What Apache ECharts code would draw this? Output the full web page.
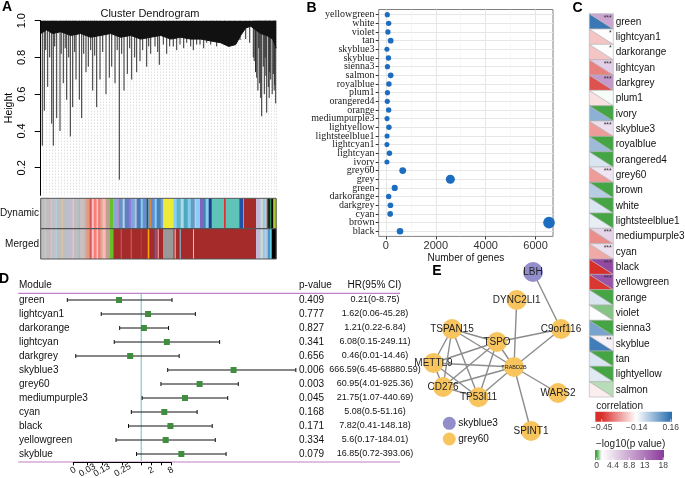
<!DOCTYPE html>
<html><head><meta charset="utf-8">
<script src="https://cdn.jsdelivr.net/npm/echarts@6.0.0/dist/echarts.min.js"></script>
<style>html,body{margin:0;padding:0;background:#fff;}#chart{width:685px;height:478px;}</style>
</head><body><div id="chart"></div>
<script>
// ================= DATA =================
// ---- Panel A : cluster dendrogram (condensed to 235 leaf ranks) ----
const dendroTicks = [0.2, 0.4, 0.6, 0.8, 1.0];
// [leaf rank, merge height of the branch hanging from the top]
const dendroDrops = [
[1.6,0.32],[3.6,0.51],[5,0.84],[7,0.64],[9,0.8],[11,0.44],[12.6,0.32],[14,0.86],[16,0.47],[19.3,0.4],
[20.5,0.82],[22.6,0.66],[24.5,0.85],[26,0.57],[28,0.8],[29.6,0.37],[32,0.53],[34,0.83],[35.3,0.68],[38.6,0.57],
[41,0.47],[43,0.82],[45.3,0.72],[47.6,0.75],[50,0.84],[52,0.62],[54,0.81],[56,0.53],[59.3,0.68],[62,0.83],
[65.3,0.6],[68.6,0.69],[71,0.75],[74.3,0.66],[76.5,0.84],[78.6,0.135],[81,0.82],[83.3,0.62],[86.6,0.71],[89,0.85],
[91,0.68],[94,0.8],[96,0.72],[99.3,0.78],[102,0.84],[106,0.75],[108,0.86],[110,0.82],[114.3,0.86],[117,0.83],
[118.6,0.76],[122.6,0.87],[126,0.82],[129,0.86],[132.6,0.86],[136,0.84],[139.3,0.87],[143,0.85],[146,0.88],[150,0.86],
[152.6,0.84],[156,0.87],[159.3,0.87],[163,0.85],[166,0.88],[170,0.87],[172.6,0.9],[176,0.86],[179.3,0.88],[184,0.87],
[189.3,0.91],[194,0.88],[199.3,0.895],[205,0.9],[209,0.88],[212.6,0.8],[213.5,0.78],[214.8,0.72],[216,0.69],[217.2,0.62],
[218,0.85],[219,0.66],[220,0.58],[221,0.48],[222.6,0.75],[223.6,0.6],[224.5,0.8],[225.2,0.7],[226,0.5],[227.6,0.64],
[228.5,0.58],[229,0.72],[230,0.68],[231.5,0.6],[232.6,0.71],[233.5,0.62],[234,0.65],[235,0.55]
];
// lower edge of the dense merge band at the top of the tree: [leaf rank, height]
const dendroBand = [
[0,0.93],[6,0.95],[12,0.93],[20,0.94],[30,0.92],[40,0.93],[50,0.91],[60,0.92],[70,0.93],[80,0.91],
[90,0.92],[100,0.9],[110,0.91],[120,0.92],[130,0.9],[140,0.91],[150,0.9],[160,0.9],[170,0.89],[180,0.88],
[188,0.86],[195,0.87],[200,0.92],[205,0.96],[210,0.97],[215,0.95],[220,0.93],[226,0.92],[232,0.9],[235.5,0.85]
];
// module colour bars: [first leaf rank, last leaf rank, module colour]
const dynamicSegments = [
[0,4,'#bebebe'],[4,5,'#d8bfd8'],[5,10,'#bebebe'],[10,11,'#ffb6c1'],[11,15,'#c0c0c8'],[15,16,'#add8e6'],[16,21,'#bebebe'],[21,22,'#e6c8a0'],[22,27,'#bebebe'],[27,28,'#b0c4de'],[28,32,'#c4bcc8'],[32,33,'#ffc0cb'],[33,38,'#bebebe'],[38,39,'#9fb6cd'],[39,44,'#c8c0c0'],[44,46,'#d8a8a0'],
[46,49,'#e9967a'],[49,51,'#cd5c5c'],[51,53,'#ffc0cb'],[53,56,'#fa8072'],[56,57,'#ffe4e1'],[57,60,'#f08080'],[60,62,'#d2b48c'],[62,65,'#ffb6c1'],[65,68.6,'#c0a090'],
[68.6,72.6,'#66c02a'],
[72.6,76,'#87a8d8'],[76,78,'#c090c0'],[78,82,'#6f8fc8'],[82,84,'#add8e6'],[84,88,'#5f7fc0'],[88,90,'#9370db'],[90,94,'#7ea6d8'],[94,96,'#b0c4de'],[96,100,'#4f78b8'],[100,102,'#87ceeb'],[102,106,'#6a8fd0'],[106,107.5,'#1f5f3f'],[107.5,109,'#6f8fc8'],[109,110,'#ff8c00'],[110,114,'#5f90d0'],[114,116,'#87cefa'],[116,120,'#4682b4'],[120,122.6,'#7aa0d0'],
[122.6,132.6,'#eeea3a'],
[132.6,136,'#87cefa'],[136,140,'#5fb4c8'],[140,143,'#add8e6'],[143,147,'#4fa8c0'],[147,150,'#87ceeb'],[150,154,'#5f9ec8'],[154,155,'#ffc0cb'],[155,159.3,'#87cefa'],
[159.3,162,'#8b5fbf'],[162,165,'#4682b4'],[165,168,'#87ceeb'],[168,171,'#1f3f8f'],
[171,183.3,'#5ec4b8'],[183.3,185,'#e03030'],[185,198.6,'#5ec4b8'],[198.6,202.6,'#1f4fa8'],[202.6,203.3,'#5ec4b8'],
[203.3,215.3,'#a52a2a'],
[215.3,218,'#c8b8d8'],[218,220,'#b0c4de'],[220,222,'#e0d8c0'],[222,224,'#87ceeb'],[224,226,'#d8bfd8'],
[226,227.5,'#556b2f'],[227.5,229,'#000000'],[229,230.5,'#2e8b57'],[230.5,232.6,'#000000'],
[232.6,235.5,'#a8cc30']
];
const mergedSegments = [
[0,4,'#bebebe'],[4,5,'#d8bfd8'],[5,10,'#bebebe'],[10,11,'#ffb6c1'],[11,15,'#c0c0c8'],[15,16,'#add8e6'],[16,21,'#bebebe'],[21,22,'#e6c8a0'],[22,27,'#bebebe'],[27,28,'#b0c4de'],[28,32,'#c4bcc8'],[32,33,'#ffc0cb'],[33,38,'#bebebe'],[38,39,'#9fb6cd'],[39,44,'#c8c0c0'],[44,46,'#d8a8a0'],
[46,49,'#e9967a'],[49,51,'#cd5c5c'],[51,53,'#ffc0cb'],[53,56,'#fa8072'],[56,57,'#ffe4e1'],[57,60,'#f08080'],[60,62,'#d2b48c'],[62,65,'#ffb6c1'],[65,68.6,'#c0a090'],
[68.6,72.6,'#66c02a'],
[72.6,80,'#a52a2a'],[80,81,'#c86060'],[81,90,'#a52a2a'],[90,91,'#e06060'],[91,100,'#a52a2a'],[100,101,'#c04040'],[101,107,'#a52a2a'],[107,108.5,'#ffa500'],[108.5,114,'#a52a2a'],[114,115.5,'#4169e1'],[115.5,117,'#a52a2a'],[117,118,'#ffb6c1'],[118,122.6,'#a52a2a'],
[122.6,132.6,'#999999'],
[132.6,134,'#a52a2a'],[134,134.8,'#ffffff'],[134.8,139,'#a52a2a'],[139,140,'#87ceeb'],[140,152.3,'#a52a2a'],[152.3,153,'#ffffff'],[153,215.3,'#a52a2a'],
[215.3,218,'#c8b8d8'],[218,220,'#b0c4de'],[220,222,'#e0d8c0'],[222,224,'#87ceeb'],[224,226,'#d8bfd8'],
[226,227.5,'#5fd3e0'],[227.5,229,'#3a78c8'],[229,231,'#5fd3e0'],
[231,235.5,'#000000']
];

// ---- Panel B : module sizes ----
const bModules = ['yellowgreen','white','violet','tan','skyblue3','skyblue','sienna3','salmon','royalblue','plum1','orangered4','orange','mediumpurple3','lightyellow','lightsteelblue1','lightcyan1','lightcyan','ivory','grey60','grey','green','darkorange','darkgrey','cyan','brown','black'];
const bGenes = [55,110,80,190,40,100,60,190,120,60,55,110,45,120,45,40,140,40,673,2583,352,110,180,170,6540,565];
const bTicks = [0,2000,4000,6000];
const bMinorTicks = [1000,3000,5000];

// ---- Panel C : module-trait correlation ----
const cModules = ['green','lightcyan1','darkorange','lightcyan','darkgrey','plum1','ivory','skyblue3','royalblue','orangered4','grey60','brown','white','lightsteelblue1','mediumpurple3','cyan','black','yellowgreen','orange','violet','sienna3','skyblue','tan','lightyellow','salmon'];
const cCorrelation = [0.14,-0.23,-0.23,-0.33,-0.40,-0.19,0.02,-0.29,0.0,-0.09,-0.29,-0.04,-0.09,-0.11,-0.31,-0.27,-0.45,-0.44,-0.09,-0.14,0.05,0.13,-0.09,-0.10,-0.17];
const cNegLog10P = [9,1.5,1.5,5.5,10,1.25,0,4,0,0,3.5,0,0,0,5,4,17,16,0,0.45,0,2.5,0,0,0.8];
const cCorTicks = [-0.45,-0.14,0.16];
const cPTicks = [0,4.4,8.8,13,18];

// ---- Panel D : Cox regression forest plot ----
const dModules = ['green','lightcyan1','darkorange','lightcyan','darkgrey','skyblue3','grey60','mediumpurple3','cyan','black','yellowgreen','skyblue'];
const dPValue = ['0.409','0.777','0.827','0.341','0.656','0.006','0.003','0.045','0.168','0.171','0.334','0.079'];
const dHR = [0.21,1.62,1.21,6.08,0.46,666.59,60.95,21.75,5.08,7.82,5.6,16.85];
const dLow = [0,0.06,0.22,0.15,0.01,6.45,4.01,1.07,0.5,0.41,0.17,0.72];
const dHigh = [8.75,45.28,6.84,249.11,14.46,68880.59,925.36,440.69,51.16,148.18,184.01,393.06];
// axis ticks (HR scale, as placed in the figure) and their printed labels
const dAxisTicks = [0.0084,0.0226,0.0625,0.272,1,2,4,8];
const dAxisLabels = ['0','0.03','0.13','0.25','','2','','8'];

// ---- Panel E : PPI network ----
const eGenes = ['LBH','DYNC2LI1','C9orf116','TSPAN15','TSPO','METTL9','TRABD2B','CD276','TP53I11','WARS2','SPINT1'];
const eModules = ['skyblue3','grey60','grey60','grey60','grey60','grey60','grey60','grey60','grey60','grey60','grey60'];
const eLayoutX = [533,516.7,561,452,497,433.5,514,443,478.5,558,531];
const eLayoutY = [272,300,329,329,342,363,367,387,397.3,393,431];
const eLinks = [
['LBH','C9orf116'],['C9orf116','TSPO'],['C9orf116','TRABD2B'],['DYNC2LI1','TRABD2B'],['TRABD2B','SPINT1'],['TRABD2B','WARS2'],
['TRABD2B','TSPAN15'],['TRABD2B','TSPO'],['TRABD2B','METTL9'],['TRABD2B','CD276'],['TRABD2B','TP53I11'],
['TSPAN15','TSPO'],['TSPAN15','METTL9'],['TSPAN15','CD276'],['TSPAN15','TP53I11'],
['TSPO','METTL9'],['TSPO','CD276'],['TSPO','TP53I11'],['METTL9','TP53I11'],['METTL9','CD276'],['CD276','TP53I11']
];

// ================= HELPERS =================
const SANS = 'Liberation Sans, Arial, sans-serif';
const SERIF = 'Liberation Serif, Times New Roman, serif';
function hex2rgb(h){h=h.replace('#','');return [parseInt(h.substr(0,2),16),parseInt(h.substr(2,2),16),parseInt(h.substr(4,2),16)];}
function rampColor(stops, v){
  if (v <= stops[0][0]) return stops[0][1];
  if (v >= stops[stops.length-1][0]) return stops[stops.length-1][1];
  for (let i=0;i<stops.length-1;i++){
    const a=stops[i], b=stops[i+1];
    if (v>=a[0] && v<=b[0]){
      const t=(v-a[0])/(b[0]-a[0]); const ca=hex2rgb(a[1]), cb=hex2rgb(b[1]);
      return 'rgb('+ca.map((c,k)=>Math.round(c+(cb[k]-c)*t)).join(',')+')';
    }
  }
}
const corRamp = [[-0.45,'#d92f2b'],[-0.145,'#ffffff'],[0.16,'#2c6fb0']];
const pRamp = [[0,'#45a545'],[1.3,'#ffffff'],[18,'#8c3d9c']];
function stars(v){ return v>3 ? '***' : v>2 ? '**' : v>1.3 ? '*' : ''; }
const log2 = Math.log2;

// ================= CHART =================
const chart = echarts.init(document.getElementById('chart'), null, {renderer:'canvas', width:685, height:478});

const hidden = {show:false};
const dAxisLeft = 141.2 + 9.85*log2(dAxisTicks[0]);
const grids = [
  {left:40.7, top:20.7, width:235.5, height:174.6},   // 0 A dendrogram
  {left:40.7, top:198.3, width:235.5, height:60.7},   // 1 A colour bars
  {left:378.7, top:9.5, width:174.3, height:226.9, show:true, borderColor:'#808080', borderWidth:1, backgroundColor:'#fff'}, // 2 B
  {left:589.3, top:13.7, width:24, height:383.3},     // 3 C
  {left:62.4, top:293, width:236.4, height:168},      // 4 D data
  {left:dAxisLeft, top:293, width:170.75-dAxisLeft, height:169.3},    // 5 D axis
  {left:0, top:0, width:685, height:478}              // 6 E
].map(g=>Object.assign({outerBoundsMode:'none', containLabel:false}, g));

const xAxes = [
  {gridIndex:0, type:'value', min:0, max:235.5, interval:3, axisLine:hidden, axisTick:hidden, axisLabel:hidden,
   splitLine:{show:true, lineStyle:{color:'#c4c4c4', width:0.8, type:[1,2]}}},
  {gridIndex:1, type:'value', min:0, max:235.5, show:false},
  {gridIndex:2, type:'value', min:-290, max:6700, position:'bottom', axisLine:{show:false, onZero:false},
   axisTick:{show:true, customValues:bTicks, length:3, lineStyle:{color:'#333'}},
   axisLabel:{customValues:bTicks, fontSize:11, color:'#333', margin:4, fontFamily:SANS, formatter:v=>String(v), showMinLabel:true, showMaxLabel:true},
   splitLine:{show:true, lineStyle:{color:'#e6e6e6', width:1}},
   name:'Number of genes', nameLocation:'middle', nameGap:17, nameTextStyle:{fontSize:10, color:'#111', fontFamily:SANS}},
  {gridIndex:2, type:'value', min:-290, max:6700, position:'bottom', axisLine:{show:false, onZero:false}, axisLabel:hidden,
   axisTick:{show:false, customValues:bMinorTicks},
   splitLine:{show:true, lineStyle:{color:'#f1f1f1', width:0.6}}},
  {gridIndex:3, type:'value', min:0, max:1, show:false},
  {gridIndex:4, type:'value', min:-8, max:16, show:false},
  {gridIndex:5, type:'value', min:log2(dAxisTicks[0]), max:3, position:'bottom',
   axisLine:{show:true, onZero:false, lineStyle:{color:'#000', width:1}},
   axisTick:{show:true, customValues:dAxisTicks.map(log2), length:3, lineStyle:{color:'#000'}},
   axisLabel:{customValues:dAxisTicks.map(log2), rotate:30, align:'center', verticalAlign:'middle', fontSize:9, color:'#111', margin:8, fontFamily:SANS, showMinLabel:true, showMaxLabel:true,
     formatter:(v)=>{const i=dAxisTicks.findIndex(t=>Math.abs(log2(t)-v)<1e-6);return i<0?'':dAxisLabels[i];}},
   splitLine:hidden},
  {gridIndex:6, type:'value', min:0, max:685, show:false}
];
const yAxes = [
  {gridIndex:0, type:'value', min:0.05, max:1.0,
   axisLine:{show:true, onZero:false, lineStyle:{color:'#000', width:1}},
   axisTick:{show:true, customValues:dendroTicks, length:6, lineStyle:{color:'#000'}},
   axisLabel:{customValues:dendroTicks, rotate:90, fontSize:11, color:'#000', margin:13, fontFamily:SANS, formatter:v=>v.toFixed(1), showMinLabel:true, showMaxLabel:true},
   splitLine:hidden,
   name:'Height', nameLocation:'middle', nameRotate:90, nameGap:26, nameTextStyle:{fontSize:10.5, color:'#000', fontFamily:SANS}},
  {gridIndex:1, type:'value', min:0, max:2, inverse:true, show:false},
  {gridIndex:2, type:'value', min:-0.6, max:bModules.length-0.4, inverse:true, axisLine:{show:false, onZero:false},
   axisTick:{show:true, customValues:bModules.map((m,i)=>i), length:3, lineStyle:{color:'#333'}},
   axisLabel:{show:false},
   splitLine:{show:true, lineStyle:{color:'#e6e6e6', width:1}}},
  {gridIndex:3, type:'value', min:-0.5, max:cModules.length-0.5, inverse:true, show:false},
  {gridIndex:4, type:'value', min:-0.5, max:dModules.length-0.5, inverse:true, show:false},
  {gridIndex:5, type:'value', min:0, max:1, show:false},
  {gridIndex:6, type:'value', min:0, max:478, inverse:true, show:false}
];

const series = [];
// A: branches
series.push({type:'custom', xAxisIndex:0, yAxisIndex:0, silent:true, animation:false, z:3,
  data: dendroDrops,
  renderItem:(p,api)=>{const d=dendroDrops[p.dataIndex];const a=api.coord([d[0],1.0]);const b=api.coord([d[0],d[1]]);
    return {type:'line', shape:{x1:a[0],y1:a[1],x2:b[0],y2:b[1]}, style:{stroke:'#2e2e2e', lineWidth:1}};}});
// A: dense top band
series.push({type:'line', xAxisIndex:0, yAxisIndex:0, silent:true, animation:false, z:4, data:dendroBand, symbol:'none',
  lineStyle:{color:'#111', width:1}, areaStyle:{color:'#111', opacity:1, origin:'end'}});
// A: colour bars
const barRows = dynamicSegments.map(s=>[s[0],s[1],0,s[2]]).concat(mergedSegments.map(s=>[s[0],s[1],1,s[2]]));
series.push({type:'custom', xAxisIndex:1, yAxisIndex:1, silent:true, animation:false,
  data: barRows.map(r=>[r[0],r[2]]),
  renderItem:(p,api)=>{const r=barRows[p.dataIndex];const a=api.coord([r[0],r[2]]);const b=api.coord([r[1],r[2]+1]);
    return {type:'rect', shape:{x:a[0],y:a[1],width:b[0]-a[0]+0.3,height:b[1]-a[1]}, style:{fill:r[3]}};}});
// B: dots
series.push({type:'scatter', xAxisIndex:2, yAxisIndex:2, silent:true, animation:false,
  data: bGenes.map((v,i)=>[v,i]), symbolSize:(d)=>4.5+0.0886*Math.sqrt(d[0]),
  itemStyle:{color:'#1c6dbf', opacity:1}});
// B: category labels (left of the panel)
series.push({type:'custom', xAxisIndex:2, yAxisIndex:2, silent:true, animation:false, clip:false,
  data: bModules.map((m,i)=>[-290,i]),
  renderItem:(p,api)=>{const i=p.dataIndex;const c=api.coord([-290,i]);
    return {type:'text', style:{text:bModules[i], x:c[0]-4.2, y:c[1], align:'right', verticalAlign:'middle', fontSize:10, fill:'#222', fontFamily:SERIF}};}});
// C: triangle heatmap
series.push({type:'custom', xAxisIndex:4, yAxisIndex:3, silent:true, animation:false,
  data: cModules.map((m,i)=>[0.5,i]),
  renderItem:(p,api)=>{const i=p.dataIndex;const a=api.coord([0,i-0.5]);const b=api.coord([1,i+0.5]);
    const x0=a[0],y0=a[1],x1=b[0],y1=b[1];
    return {type:'group', children:[
      {type:'polygon', shape:{points:[[x0,y0],[x0,y1],[x1,y1]]}, style:{fill:rampColor(corRamp,cCorrelation[i]), stroke:'#b4b4b4', lineWidth:0.6}},
      {type:'polygon', shape:{points:[[x0,y0],[x1,y0],[x1,y1]]}, style:{fill:rampColor(pRamp,cNegLog10P[i]), stroke:'#b4b4b4', lineWidth:0.6}},
      {type:'text', style:{text:stars(cNegLog10P[i]), x:x1-1.5, y:y0+0.5, align:'right', verticalAlign:'top', fontSize:7, fill:'#333', fontFamily:SANS}},
      {type:'text', style:{text:cModules[i], x:x1+2.4, y:(y0+y1)/2+0.5, align:'left', verticalAlign:'middle', fontSize:10, fill:'#111', fontFamily:SANS}}
    ]};}});
// D: reference line at HR = 1
series.push({type:'custom', xAxisIndex:5, yAxisIndex:4, silent:true, animation:false, data:[[0,0]],
  renderItem:(p,api)=>{const a=api.coord([0,-0.5]);const b=api.coord([0,dModules.length-0.5]);
    return {type:'line', shape:{x1:a[0],y1:a[1],x2:b[0],y2:b[1]}, style:{stroke:'#72bccb', lineWidth:1}};}});
// D: CI whiskers and boxes
const clampL = v => Math.min(15.7, Math.max(-7.5, v <= 0 ? -7.5 : log2(v)));
series.push({type:'custom', xAxisIndex:5, yAxisIndex:4, silent:true, animation:false, z:5,
  data: dHR.map((h,i)=>[log2(h),i]),
  renderItem:(p,api)=>{const i=p.dataIndex;const l=api.coord([clampL(dLow[i]),i]);const h=api.coord([clampL(dHigh[i]),i]);const c=api.coord([log2(dHR[i]),i]);
    return {type:'group', children:[
      {type:'line', shape:{x1:l[0],y1:l[1],x2:h[0],y2:h[1]}, style:{stroke:'#111', lineWidth:1}},
      {type:'line', shape:{x1:l[0],y1:l[1]-2,x2:l[0],y2:l[1]+2}, style:{stroke:'#111', lineWidth:1}},
      {type:'line', shape:{x1:h[0],y1:h[1]-2,x2:h[0],y2:h[1]+2}, style:{stroke:'#111', lineWidth:1}},
      {type:'rect', shape:{x:c[0]-3,y:c[1]-3,width:6,height:6}, style:{fill:'#3e8e3e'}}
    ]};}});
// D: text columns
series.push({type:'custom', xAxisIndex:5, yAxisIndex:4, silent:true, animation:false,
  data: dModules.map((m,i)=>[0,i]),
  renderItem:(p,api)=>{const i=p.dataIndex;const y=api.coord([0,i])[1];
    return {type:'group', children:[
      {type:'text', style:{text:dModules[i], x:19, y:y, verticalAlign:'middle', fontSize:10, fill:'#111', fontFamily:SANS}},
      {type:'text', style:{text:dPValue[i], x:299, y:y, verticalAlign:'middle', fontSize:10, fill:'#111', fontFamily:SANS}},
      {type:'text', style:{text:dHR[i]+'('+dLow[i]+'-'+dHigh[i]+')', x:375, y:y, align:'center', verticalAlign:'middle', fontSize:9, fill:'#111', fontFamily:SANS}}
    ]};}});
// E: network
series.push({type:'graph', coordinateSystem:'cartesian2d', xAxisIndex:7, yAxisIndex:6, silent:true, animation:false,
  data: eGenes.map((g,i)=>({name:g, value:[eLayoutX[i],eLayoutY[i]], symbolSize:20,
    itemStyle:{color: eModules[i]==='skyblue3' ? '#928ecb' : '#f7c45e'},
    label:{fontSize: g==='TRABD2B' ? 5.5 : 10}})),
  links: eLinks.map(l=>({source:l[0], target:l[1]})),
  label:{show:true, position:'inside', color:'#222', fontFamily:SANS},
  lineStyle:{color:'#8c8c8c', width:1.4, opacity:1, curveness:0},
  emphasis:{disabled:true}});

// ---- legends / annotations (text & frames) ----
const graphic = [];
function T(text,x,y,opt){graphic.push(Object.assign({type:'text', silent:true, style:Object.assign({text, x, y, fontSize:10, fill:'#111', fontFamily:SANS, verticalAlign:'middle'}, opt||{})}));}
// panel letters
[['A',7,7.5],['B',311.5,8],['C',577.5,8.5],['D',4,279],['E',437,271]].forEach(l=>T(l[0],l[1],l[2],{fontSize:14,fontWeight:'bold',align:'center',fill:'#000'}));
T('Cluster Dendrogram',150,14,{fontSize:11,align:'center'});
T('Dynamic',39,213.5,{align:'right'});
T('Merged',39,244,{align:'right'});
graphic.push({type:'rect', silent:true, z:100, shape:{x:40.7,y:198.3,width:235.5,height:60.7}, style:{fill:null, stroke:'#555', lineWidth:1}});
graphic.push({type:'line', silent:true, z:100, shape:{x1:40.7,y1:228.7,x2:276.2,y2:228.7}, style:{stroke:'#555', lineWidth:1.2}});
// D headers and rules
T('Module',19,285.7); T('p-value',299,285.7); T('HR(95% CI)',374.5,285.7,{align:'center'});
graphic.push({type:'line', silent:true, shape:{x1:18.3,y1:293.3,x2:400,y2:293.3}, style:{stroke:'#c27fc6', lineWidth:1.2}});
graphic.push({type:'line', silent:true, shape:{x1:18.3,y1:462,x2:400,y2:462}, style:{stroke:'#c27fc6', lineWidth:1.2}});
// C legends
function legendBar(x,y,w,h,vmin,vmax,ramp,ticks,title){
  const stops=[];
  for(let k=0;k<=40;k++){const v=vmin+(vmax-vmin)*k/40; stops.push({offset:k/40, color:rampColor(ramp,v)});}
  graphic.push({type:'rect', silent:true, shape:{x,y,width:w,height:h}, style:{fill:new echarts.graphic.LinearGradient(0,0,1,0,stops)}});
  T(title,x+1,y-5.5,{fontSize:10,fill:'#222'});
  ticks.forEach(t=>{const tx=x+(t-vmin)/(vmax-vmin)*w;
    graphic.push({type:'line', silent:true, shape:{x1:tx,y1:y+h-2.5,x2:tx,y2:y+h}, style:{stroke:'#fff', lineWidth:0.8}});
    T(String(t).replace('-','\u2212'),tx,y+h+5.5,{fontSize:8.5,align:'center',fill:'#444'});});
}
legendBar(595.3,411.7,76.7,10,-0.507,0.171,corRamp,cCorTicks,'correlation');
legendBar(595,450,69,10,-0.46,18.2,pRamp,cPTicks,'\u2212log10(p value)');
// E legend
graphic.push({type:'circle', silent:true, shape:{cx:449.3,cy:423.3,r:6.5}, style:{fill:'#928ecb'}});
graphic.push({type:'circle', silent:true, shape:{cx:449.3,cy:439,r:6.5}, style:{fill:'#f7c45e'}});
T('skyblue3',458.3,423.3); T('grey60',458.3,439);

chart.setOption({animation:false, grid:grids, xAxis:xAxes, yAxis:yAxes, series, graphic});
</script></body></html>
